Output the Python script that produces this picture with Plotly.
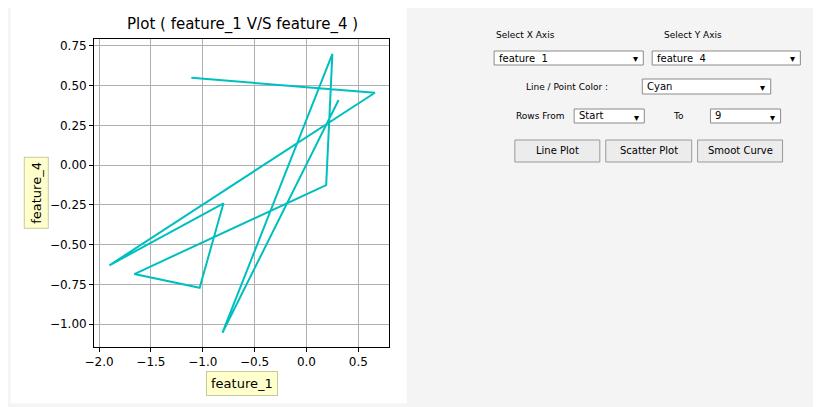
import plotly.graph_objects as go

W, H = 821, 407
# the page renders the figure a little right/down of the window corner
X_OFF, Y_OFF = 15, 7

# data rows Start..9 (feature_1 vs feature_4)
feature_1 = [-1.11, 0.66, -1.90, -0.80, -1.03, -1.66, 0.19, 0.25, -0.81, 0.31]
feature_4 = [0.55, 0.456, -0.63, -0.24, -0.771, -0.685, -0.125, 0.70, -1.054, 0.41]

x_ticks = [-2.0, -1.5, -1.0, -0.5, 0.0, 0.5]
y_ticks = [0.75, 0.50, 0.25, 0.00, -0.25, -0.50, -0.75, -1.00]


def px(x):
    return (x - X_OFF) / W


def py(y):
    return 1 - (y - Y_OFF) / H


fig = go.Figure()
fig.add_trace(go.Scatter(x=feature_1, y=feature_4, mode='lines',
                         line={'color': '#00bfbf', 'width': 2}, showlegend=False))

shapes = []
annotations = []


def rect(x0, y0, x1, y1, fill, line='#a0a0a0'):
    shapes.append(dict(type='rect', xref='paper', yref='paper', x0=px(x0), x1=px(x1),
                       y0=py(y1), y1=py(y0), fillcolor=fill, line={'color': line, 'width': 1},
                       layer='below'))


def text(x, y, s, size=10, anchor='left', **kw):
    annotations.append(dict(xref='paper', yref='paper', x=px(x), y=py(y), text=s,
                            showarrow=False, xanchor=anchor, yanchor='middle',
                            font={'size': size, 'color': 'black', 'family': 'DejaVu Sans'}, **kw))


def combo(x0, y0, x1, y1, label):
    rect(x0, y0, x1, y1, 'white', '#8a8a8a')
    text(x0 + 3, (y0 + y1) / 2, label, 10)
    text(x1 - 8, (y0 + y1) / 2 + 1, '▾', 10, anchor='center')


def button(x0, y0, x1, y1, label):
    rect(x0, y0, x1, y1, '#ececec', '#9a9a9a')
    text((x0 + x1) / 2, (y0 + y1) / 2, label, 10, anchor='center')


# white plot panel
rect(8, 4, 408, 402, 'white', 'white')

text(242, 24, 'Plot ( feature_1 V/S feature_4 )', 15, anchor='center')
annotations.append(dict(xref='paper', yref='paper', x=px(242), y=py(382), text='feature_1',
                        xanchor='center', yanchor='middle',
                        showarrow=False, bgcolor='#ffffcc', bordercolor='#c8c8a0', borderpad=4,
                        font={'size': 13, 'color': 'black', 'family': 'DejaVu Sans'}))
annotations.append(dict(xref='paper', yref='paper', x=px(33), y=py(192), text='feature_4',
                        xanchor='center', yanchor='middle',
                        showarrow=False, textangle=-90, bgcolor='#ffffcc', bordercolor='#c8c8a0',
                        borderpad=4, font={'size': 13, 'color': 'black', 'family': 'DejaVu Sans'}))

# controls
text(497, 34, 'Select X Axis', 9)
text(667, 34, 'Select Y Axis', 9)
combo(497, 50, 648, 64, 'feature  1')
combo(657, 50, 807, 64, 'feature  4')
text(527, 86, 'Line / Point Color :', 9)
combo(647, 78, 777, 93, 'Cyan')
text(517, 115, 'Rows From', 9)
combo(578, 108, 649, 122, 'Start')
text(676, 115, 'To', 9)
combo(716, 108, 787, 122, '9')
button(518, 139, 604, 161, 'Line Plot')
button(610, 139, 697, 161, 'Scatter Plot')
button(703, 139, 789, 161, 'Smoot Curve')

axis_common = dict(showline=True, linecolor='black', linewidth=1, mirror=True,
                   showgrid=True, gridcolor='#b0b0b0', gridwidth=1, zeroline=False,
                   ticks='outside', ticklen=4, tickcolor='black',
                   tickfont={'size': 12, 'color': 'black', 'family': 'DejaVu Sans'})

fig.update_layout(
    width=W, height=H, margin=dict(l=0, r=0, t=0, b=0),
    paper_bgcolor='#f4f4f4', plot_bgcolor='white',
    xaxis=dict(domain=[px(92), px(391)], range=[-2.048, 0.80], tickvals=x_ticks,
               ticktext=[f'{v:.1f}'.replace('-', '−') for v in x_ticks], **axis_common),
    yaxis=dict(domain=[py(346), py(38)], range=[-1.144, 0.794], tickvals=y_ticks,
               ticktext=[f'{v:.2f}'.replace('-', '−') for v in y_ticks], **axis_common),
    shapes=shapes, annotations=annotations,
)

fig.write_html('out.html')
